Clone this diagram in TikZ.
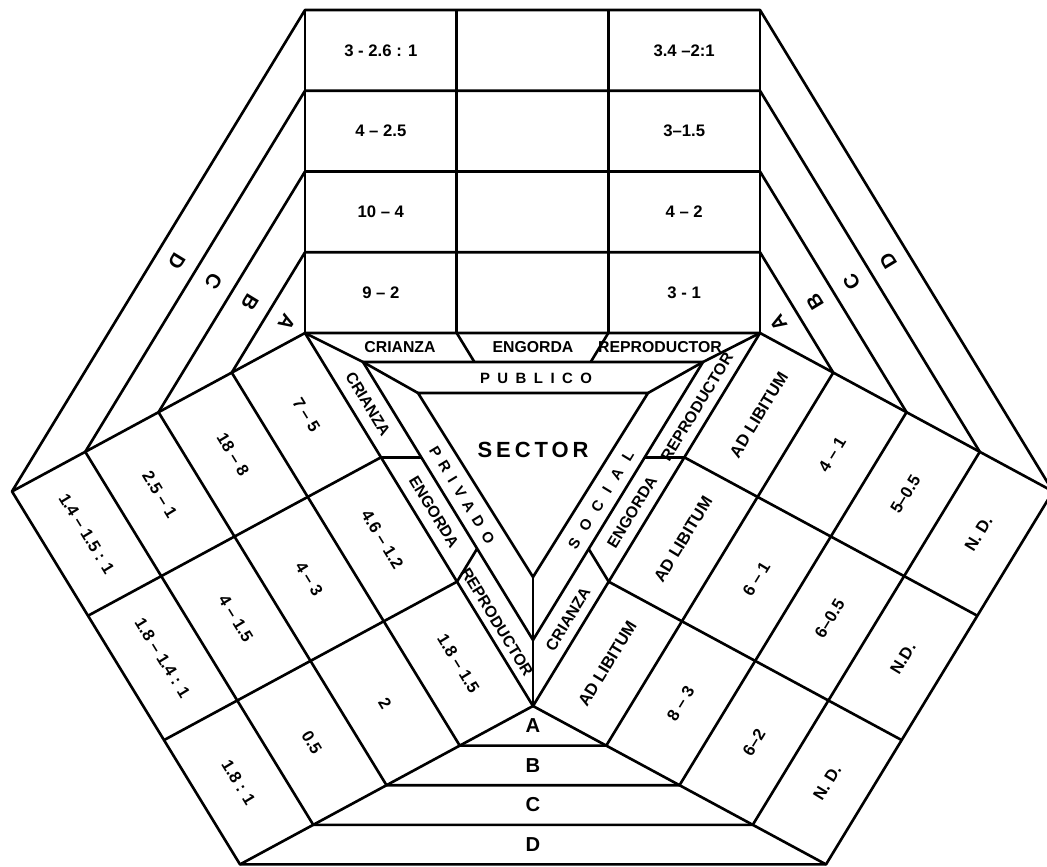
\documentclass[tikz,border=0pt]{standalone}
\usepackage{fontspec}
\setmainfont{Liberation Sans}
\usetikzlibrary{calc}

\begin{document}
\begin{tikzpicture}[
	x=0.02cm, y=-0.02cm,
	line width=1.5pt,
	line join=round,
	cell/.style={font=\bfseries\fontsize{9.5}{11}\selectfont, inner sep=1pt},
	bandlabel/.style={font=\bfseries\fontsize{9}{10}\selectfont, inner sep=1pt},
	sectorlabel/.style={font=\bfseries\fontsize{8.5}{10}\selectfont\addfontfeatures{LetterSpace=50}, inner sep=1pt},
	sociallabel/.style={font=\bfseries\fontsize{8.5}{10}\selectfont\addfontfeatures{LetterSpace=75}, inner sep=1pt},
	levellabel/.style={font=\bfseries\fontsize{11.5}{13}\selectfont, inner sep=1pt},
	leftrot/.style={rotate=-58.6},
	rightrot/.style={rotate=58.6}
	]

	\useasboundingbox (0,0) rectangle (1047,866);
	\clip (0,0) rectangle (1047,866);

	% ======================
	% Corners and level steps
	% ======================
	\coordinate (T1) at (305,333);
	\coordinate (T2) at (760,333);
	\coordinate (T3) at (533,706);
	\coordinate (S1) at (363,362);
	\coordinate (S2) at (703,362);
	\coordinate (S3) at (533,640);
	\coordinate (I1) at (418,393);
	\coordinate (I2) at (648,393);
	\coordinate (I3) at (533,577);
	\coordinate (vT) at (0,-80.75);
	\coordinate (vL) at (-73.25,39.6);
	\coordinate (vR) at (73.25,39.6);

	% ======================
	% Sector triangles
	% ======================
	\draw (T1) -- (T2) -- (T3) -- cycle;
	\draw (S1) -- (S2) -- (S3) -- cycle;
	\draw (I1) -- (I2) -- (I3) -- cycle;
	\draw (T1) -- (S1) -- (I1);
	\draw (T2) -- (S2) -- (I2);
	\draw (T3) -- (S3) -- (I3);

	% band dividers
	\draw (456.7,333) -- (474.4,362);
	\draw (608.3,333) -- (590.7,362);
	\draw (381,457.3) -- (421.3,457.3);
	\draw (457,581.7) -- (477.1,548.7);
	\draw (684.3,457.3) -- (644.7,457.3);
	\draw (608.7,581.7) -- (588.7,549);

	% ======================
	% Level rings A to D
	% ======================
	\foreach \k in {1,...,4}
		\draw ($(T1)+\k*(vT)$) -- ($(T2)+\k*(vT)$) -- ($(T2)+\k*(vR)$)
			-- ($(T3)+\k*(vR)$) -- ($(T3)+\k*(vL)$) -- ($(T1)+\k*(vL)$) -- cycle;

	% column lines
	\foreach \a/\b/\v in {T1/T2/vT, T1/T3/vL, T2/T3/vR}
		\foreach \f in {0,0.3333,0.6667,1}
			\draw ($(\a)!\f!(\b)$) -- ($(\a)!\f!(\b)+4*(\v)$);

	% ======================
	% Sector and band labels
	% ======================
	\node[font=\bfseries\fontsize{12.5}{14}\selectfont\addfontfeatures{LetterSpace=18}] (sector) at (533,450) {SECTOR};
	\node[sectorlabel] (publico) at (536,378) {PUBLICO};
	\node[sectorlabel, leftrot] (privado) at (462,495) {PRIVADO};
	\node[sociallabel, rightrot] (social) at (601,500) {SOCIAL};

	\node[bandlabel] (pubcri) at (400,347) {CRIANZA};
	\node[bandlabel] (pubeng) at (533,347) {ENGORDA};
	\node[bandlabel] (pubrep) at (660,347) {REPRODUCTOR};
	\node[bandlabel, leftrot] (pricri) at (368,404) {CRIANZA};
	\node[bandlabel, leftrot] (prieng) at (434,512) {ENGORDA};
	\node[bandlabel, leftrot] (prirep) at (497,622) {REPRODUCTOR};
	\node[bandlabel, rightrot] (socrep) at (697,407) {REPRODUCTOR};
	\node[bandlabel, rightrot] (soceng) at (632,512) {ENGORDA};
	\node[bandlabel, rightrot] (soccri) at (568,619) {CRIANZA};

	% ======================
	% Grid cells (A next to the triangle, D outside)
	% ======================
	\foreach \j/\k/\txt in {0/0/{9 -- 2}, 0/1/{10 -- 4}, 0/2/{4 -- 2.5}, 0/3/{3 - 2.6 : 1},
		2/0/{3 - 1}, 2/1/{4 -- 2}, 2/2/{3--1.5}, 2/3/{3.4 --2:1}}
	{
		\pgfmathsetmacro\fj{(\j+0.5)/3}
		\pgfmathsetmacro\fk{\k+0.5}
		\node[cell] (top-\j-\k) at ($(T1)!\fj!(T2)+\fk*(vT)$) {\txt};
	}

	\foreach \j/\k/\txt in {0/0/{7 -- 5}, 1/0/{4.6 -- 1.2}, 2/0/{1.8 -- 1.5},
		0/1/{18 -- 8}, 1/1/{4 -- 3}, 2/1/{2},
		0/2/{2.5 -- 1}, 1/2/{4 -- 1.5}, 2/2/{0.5},
		0/3/{1.4 -- 1.5 : 1}, 1/3/{1.8 -- 1.4 : 1}, 2/3/{1.8 : 1}}
	{
		\pgfmathsetmacro\fj{(\j+0.5)/3}
		\pgfmathsetmacro\fk{\k+0.5}
		\node[cell, leftrot] (left-\j-\k) at ($(T1)!\fj!(T3)+\fk*(vL)$) {\txt};
	}

	\foreach \j/\k/\txt in {0/0/{AD LIBITUM}, 1/0/{AD LIBITUM}, 2/0/{AD LIBITUM},
		0/1/{4 -- 1}, 1/1/{6 -- 1}, 2/1/{8 -- 3},
		0/2/{5--0.5}, 1/2/{6--0.5}, 2/2/{6--2},
		0/3/{N. D.}, 1/3/{N.D.}, 2/3/{N. D.}}
	{
		\pgfmathsetmacro\fj{(\j+0.5)/3}
		\pgfmathsetmacro\fk{\k+0.5}
		\node[cell, rightrot] (right-\j-\k) at ($(T2)!\fj!(T3)+\fk*(vR)$) {\txt};
	}

	% ======================
	% Level letters in the corners
	% ======================
	\foreach \k/\lv in {1/A, 2/B, 3/C, 4/D}
	{
		\pgfmathsetmacro\fh{(\k-0.5)/2}
		\node[levellabel, rotate=-121.4] (tl-\lv) at ($(T1)+\fh*(vT)+\fh*(vL)$) {\lv};
		\node[levellabel, rotate=121.4] (tr-\lv) at ($(T2)+\fh*(vT)+\fh*(vR)$) {\lv};
		\node[levellabel] (bt-\lv) at ($(T3)+\fh*(vL)+\fh*(vR)$) {\lv};
	}

\end{tikzpicture}
\end{document}
